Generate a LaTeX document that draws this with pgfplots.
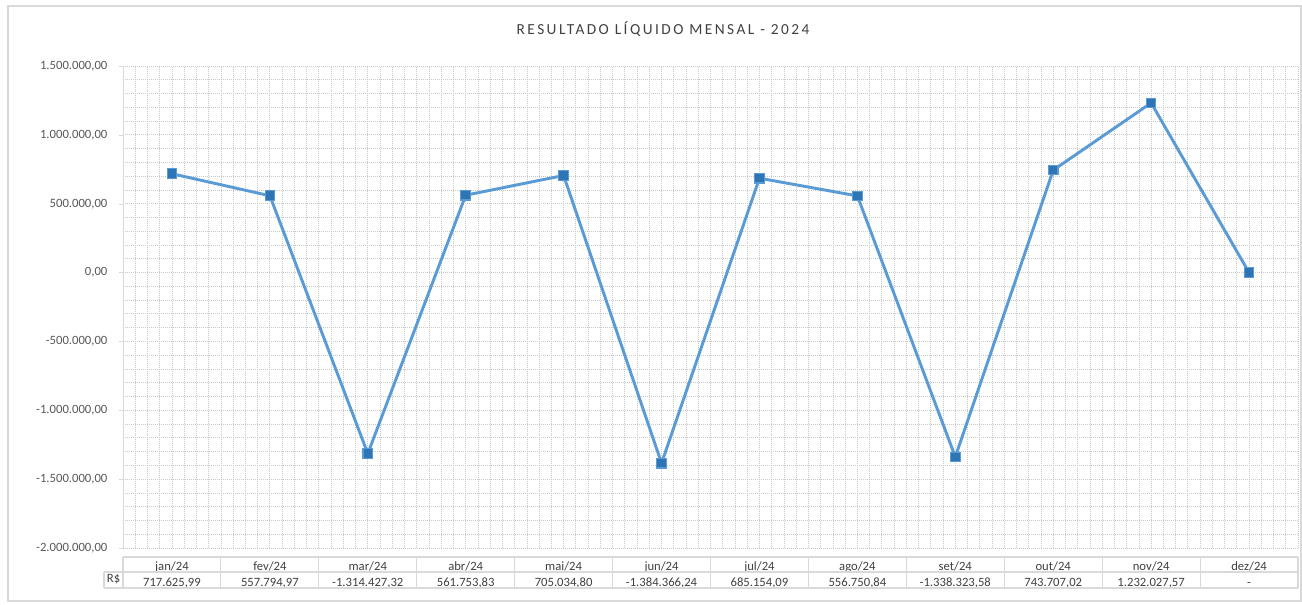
\documentclass[border=0pt]{standalone}
\usepackage{fontspec}
\setmainfont{Carlito}
\usepackage{pgfplots}
\pgfplotsset{compat=1.18}
\definecolor{linha}{RGB}{91,155,213}
\definecolor{marca}{RGB}{46,117,182}
\definecolor{grade}{RGB}{200,200,200}
\definecolor{borda}{RGB}{217,217,217}
\definecolor{texto}{RGB}{89,89,89}
\definecolor{tabtexto}{RGB}{64,64,64}
\newcommand\tabfont{\fontsize{9.5}{12}\selectfont\lineskiplimit=-10pt\relax}

\begin{document}
\begin{tikzpicture}
\begin{axis}[
    name=ax,
    scale only axis,
    width=881.25pt, height=361.5pt,
    xmin=-0.5, xmax=11.5,
    ymin=-2000000, ymax=1500000,
    ytick={-2000000,-1500000,...,1500000},
    minor ytick={-2000000,-1900000,...,1500000},
    xtick={0,...,11},
    minor xtick={-0.5,-0.375,...,11.6},
    xticklabels={{jan/24\\717.625,99},{fev/24\\557.794,97},{mar/24\\-1.314.427,32},
                 {abr/24\\561.753,83},{mai/24\\705.034,80},{jun/24\\-1.384.366,24},
                 {jul/24\\685.154,09},{ago/24\\556.750,84},{set/24\\-1.338.323,58},
                 {out/24\\743.707,02},{nov/24\\1.232.027,57},{dez/24\\-}},
    xticklabel style={align=center, anchor=north, inner sep=0pt, yshift=-6.75pt,
        font=\tabfont, text=tabtexto},
    yticklabel style={font=\fontsize{9.5}{11}\selectfont, text=texto, inner sep=0pt, xshift=-8.5pt},
    scaled y ticks=false,
    y tick label style={/pgf/number format/.cd, fixed, fixed zerofill, precision=2,
        1000 sep={.}, use comma, assume math mode=true},
    axis x line*=bottom, axis y line*=left,
    x axis line style={draw=none},
    y axis line style={draw=borda},
    xtick style={draw=none},
    ytick style={draw=borda},
    major tick length=3pt,
    minor tick length=0pt,
    tick align=outside,
    grid=both,
    major grid style={grade, dash pattern=on 0.75pt off 0.75pt, line width=0.6pt},
    minor grid style={grade, dash pattern=on 0.75pt off 0.75pt, line width=0.6pt},
    clip=false,
]
\addplot[color=linha, line width=2.2pt, mark=square*, mark size=3.6pt,
    mark options={fill=marca, draw=linha, line width=0.8pt}] coordinates {
    (0, 717625.99)
    (1, 557794.97)
    (2, -1314427.32)
    (3, 561753.83)
    (4, 705034.80)
    (5, -1384366.24)
    (6, 685154.09)
    (7, 556750.84)
    (8, -1338323.58)
    (9, 743707.02)
    (10, 1232027.57)
    (11, 0)
};
\end{axis}
% tabela de dados
\foreach \i in {0,...,12}
  \draw[borda, line width=0.8pt] ([xshift=\i*73.4375pt, yshift=-6.75pt]ax.south west) -- ++(0,-23.25pt);
\draw[borda, line width=0.8pt] ([yshift=-6.75pt]ax.south west) -- ([yshift=-6.75pt]ax.south east);
\draw[borda, line width=0.8pt] ([xshift=-14.25pt, yshift=-18pt]ax.south west) -- ([yshift=-18pt]ax.south east);
\draw[borda, line width=0.8pt] ([xshift=-14.25pt, yshift=-30pt]ax.south west) -- ([yshift=-30pt]ax.south east);
\draw[borda, line width=0.8pt] ([xshift=-14.25pt, yshift=-18pt]ax.south west) -- ++(0,-12pt);
\node[anchor=base, font=\fontsize{9.5}{11}\selectfont, text=tabtexto, inner sep=0pt]
  at ([xshift=-7.1pt, yshift=-26pt]ax.south west) {R\$};
% titulo
\node[font=\fontsize{11.5}{13}\selectfont\addfontfeatures{LetterSpace=16}, text=tabtexto]
  at ([xshift=-35.6pt, yshift=27.75pt]ax.north) {RESULTADO LÍQUIDO MENSAL - 2024};
% moldura
\draw[borda, line width=0.8pt] ([xshift=-86.25pt, yshift=-39.75pt]ax.south west)
  rectangle ([xshift=2.25pt, yshift=45pt]ax.north east);
\useasboundingbox ([xshift=-92.25pt, yshift=-42pt]ax.south west)
  rectangle ([xshift=3pt, yshift=49.5pt]ax.north east);
\end{tikzpicture}
\end{document}
